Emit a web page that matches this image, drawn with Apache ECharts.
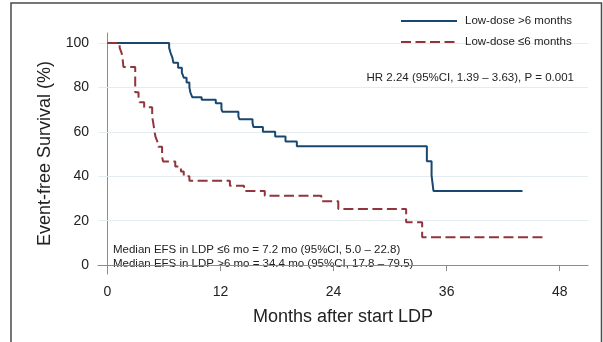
<!DOCTYPE html>
<html>
<head>
<meta charset="utf-8">
<script src="https://cdn.jsdelivr.net/npm/echarts@6/dist/echarts.min.js"></script>
<style>
  html, body { margin: 0; padding: 0; background: #fff; }
  #chart { width: 603px; height: 342px; }
</style>
</head>
<body>
<div id="chart"></div>
<script>
// Kaplan-Meier curves (months, % event-free)
const longTime = [0, 6.55, 6.7, 6.9, 7.0, 7.5, 7.9, 8.1, 8.4, 8.7, 8.8, 8.9, 9.0, 10.0, 11.5, 12.1, 12.2, 13.9, 14.0, 15.4, 15.5, 16.5, 17.8, 18.9, 20.1, 33.9, 34.4, 34.6, 44.05];
const longSurv = [100, 97.8, 95.6, 93.3, 91.1, 88.9, 86.7, 84.4, 82.2, 80.0, 77.8, 76.7, 75.6, 74.4, 72.9, 70.2, 69.1, 66.9, 65.7, 63.9, 62.2, 60.0, 57.9, 55.6, 53.5, 46.8, 40.4, 33.4, 33.4];

const shortTime = [0, 1.3, 1.5, 1.6, 1.7, 2.95, 3.3, 3.4, 3.9, 4.75, 4.85, 5.0, 5.1, 5.3, 5.4, 5.8, 5.9, 7.2, 7.8, 8.1, 8.7, 13.0, 14.5, 16.7, 22.7, 24.5, 31.7, 33.4, 46.3];
const shortSurv = [100, 97.8, 95.6, 93.3, 89.2, 77.8, 75.6, 73.3, 71.1, 66.7, 64.4, 60.0, 57.8, 55.6, 53.3, 48.9, 46.7, 44.4, 42.2, 40.0, 38.0, 35.7, 33.4, 31.2, 28.8, 25.3, 19.3, 12.5, 12.5];

const seriesNames = ['Low-dose >6 months', 'Low-dose \u22646 months'];
const xTicks = [0, 12, 24, 36, 48];
const yTicks = [0, 20, 40, 60, 80, 100];
const gridValues = [20, 40, 60, 80, 100];

const hrText = 'HR 2.24 (95%CI, 1.39 \u2013 3.63), P = 0.001';
const medianText = [
  'Median EFS in LDP \u22646 mo = 7.2 mo (95%CI, 5.0 \u2013 22.8)',
  'Median EFS in LDP >6 mo = 34.4 mo (95%CI, 17.8 \u2013 79.5)'
];

const font = '"Liberation Sans", Arial, sans-serif';
const pairs = (t, s) => t.map((v, i) => [v, s[i]]);

const chart = echarts.init(document.getElementById('chart'));

const option = {
  backgroundColor: '#fff',
  animation: false,
  grid: { left: 98, right: 15, top: 33, bottom: 68 },
  legend: {
    orient: 'vertical',
    left: 395,
    top: 10,
    itemWidth: 56,
    itemHeight: 14,
    itemGap: 9,
    data: seriesNames,
    itemStyle: { opacity: 0 },
    textStyle: { fontFamily: font, fontSize: 11.5, color: '#222', padding: [0, 0, 0, 3] }
  },
  xAxis: {
    type: 'value',
    min: -1,
    max: 51,
    name: 'Months after start LDP',
    nameLocation: 'middle',
    nameGap: 34,
    nameTextStyle: { fontFamily: font, fontSize: 18, color: '#222' },
    axisLine: { lineStyle: { color: '#8c8c8c', width: 1 } },
    axisTick: { customValues: xTicks, length: 6, lineStyle: { color: '#8c8c8c' } },
    axisLabel: { customValues: xTicks, margin: 11, fontFamily: font, fontSize: 14, color: '#222' },
    splitLine: { show: false }
  },
  yAxis: {
    type: 'value',
    min: -4,
    max: 104.5,
    name: 'Event-free Survival (%)',
    nameLocation: 'middle',
    nameGap: 44,
    nameTextStyle: { fontFamily: font, fontSize: 18, color: '#222' },
    axisLine: { show: true, lineStyle: { color: '#8c8c8c', width: 1 } },
    axisTick: { show: true, customValues: yTicks, length: 7, lineStyle: { color: '#8c8c8c' } },
    axisLabel: { customValues: yTicks, margin: 9, fontFamily: font, fontSize: 14, color: '#222' },
    splitLine: { show: false }
  },
  series: [
    {
      name: seriesNames[0],
      type: 'line',
      step: 'end',
      symbol: 'none',
      z: 3,
      data: pairs(longTime, longSurv),
      lineStyle: { color: '#1a476f', width: 2 },
      itemStyle: { color: '#1a476f' },
      markLine: {
        silent: true,
        symbol: 'none',
        z: 1,
        label: { show: false },
        lineStyle: { color: '#e4ecef', width: 1, type: 'solid' },
        data: gridValues.map(v => ({ yAxis: v }))
      }
    },
    {
      name: seriesNames[1],
      type: 'line',
      step: 'end',
      symbol: 'none',
      z: 3,
      data: pairs(shortTime, shortSurv),
      lineStyle: { color: '#90353b', width: 2, type: [10, 4.5] },
      itemStyle: { color: '#90353b' }
    }
  ],
  graphic: [
    {
      type: 'rect',
      shape: { x: 11, y: 3, width: 590.5, height: 400 },
      style: { fill: null, stroke: '#4a4a4a', lineWidth: 1.5 },
      silent: true
    },
    {
      type: 'text',
      style: { text: hrText, x: 574, y: 78, align: 'right', verticalAlign: 'middle',
               fontFamily: font, fontSize: 11.5, fill: '#222' }
    },
    {
      type: 'text',
      style: { text: medianText[0], x: 113, y: 249.5, align: 'left', verticalAlign: 'middle',
               fontFamily: font, fontSize: 11.5, fill: '#222' }
    },
    {
      type: 'text',
      style: { text: medianText[1], x: 113, y: 264, align: 'left', verticalAlign: 'middle',
               fontFamily: font, fontSize: 11.5, fill: '#222' }
    }
  ]
};

chart.setOption(option);
</script>
</body>
</html>
